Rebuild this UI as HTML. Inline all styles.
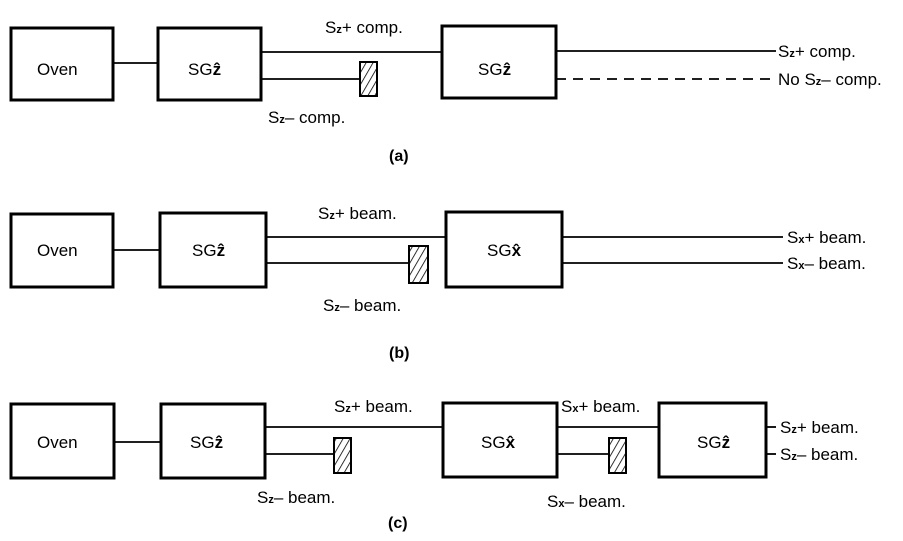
<!DOCTYPE html>
<html><head><meta charset="utf-8"><style>
body{margin:0;background:#fff}
svg{display:block}
text{font-family:"Liberation Sans",sans-serif;font-size:17px;fill:#000}
.s{font-size:11px;font-weight:bold}
.b{font-weight:bold}
</style></head><body>
<svg width="903" height="541" viewBox="0 0 903 541">
<defs>
<pattern id="h" width="6" height="6" patternUnits="userSpaceOnUse" patternTransform="rotate(30)">
<rect width="6" height="6" fill="#fff"/><line x1="0" y1="0" x2="0" y2="6" stroke="#000" stroke-width="1.6"/>
</pattern>
</defs>
<g fill="none" stroke="#000" stroke-width="3">
<rect x="11" y="28" width="102" height="72"/>
<rect x="158" y="28" width="103" height="72"/>
<rect x="442" y="26" width="114" height="72"/>
<rect x="11" y="214" width="102" height="73"/>
<rect x="160" y="213" width="106" height="74"/>
<rect x="446" y="212" width="116" height="75"/>
<rect x="11" y="404" width="103" height="74"/>
<rect x="161" y="404" width="104" height="74"/>
<rect x="443" y="403" width="114" height="74"/>
<rect x="659" y="403" width="107" height="74"/>
</g>
<g stroke="#000" stroke-width="1.8">
<line x1="113" y1="63" x2="158" y2="63"/>
<line x1="261" y1="52" x2="442" y2="52"/>
<line x1="261" y1="79" x2="360" y2="79"/>
<line x1="556" y1="51" x2="776" y2="51"/>
<line x1="556" y1="79" x2="776" y2="79" stroke-dasharray="10,7"/>
<line x1="113" y1="250" x2="160" y2="250"/>
<line x1="266" y1="237" x2="446" y2="237"/>
<line x1="266" y1="263" x2="409" y2="263"/>
<line x1="562" y1="237" x2="783" y2="237"/>
<line x1="562" y1="263" x2="783" y2="263"/>
<line x1="114" y1="442" x2="161" y2="442"/>
<line x1="265" y1="427" x2="443" y2="427"/>
<line x1="265" y1="454" x2="334" y2="454"/>
<line x1="557" y1="427" x2="659" y2="427"/>
<line x1="557" y1="454" x2="609" y2="454"/>
<line x1="766" y1="427" x2="776" y2="427"/>
<line x1="766" y1="454" x2="776" y2="454"/>
</g>
<g stroke="#000" stroke-width="2" fill="url(#h)">
<rect x="360" y="62" width="17" height="34"/>
<rect x="409" y="246" width="19" height="37"/>
<rect x="334" y="438" width="17" height="35"/>
<rect x="609" y="438" width="17" height="35"/>
</g>
<g>
<text x="37" y="75">Oven</text>
<text x="188" y="75">SG<tspan class="b">ẑ</tspan></text>
<text x="478" y="75">SG<tspan class="b">ẑ</tspan></text>
<text x="325" y="33">S<tspan class="s">z</tspan>+ comp.</text>
<text x="268" y="123">S<tspan class="s">z</tspan>– comp.</text>
<text x="778" y="57">S<tspan class="s">z</tspan>+ comp.</text>
<text x="778" y="85">No S<tspan class="s">z</tspan>– comp.</text>
<text x="389" y="161" class="b" style="font-size:16px">(a)</text>

<text x="37" y="256">Oven</text>
<text x="192" y="256">SG<tspan class="b">ẑ</tspan></text>
<text x="487" y="256">SG<tspan class="b">x̂</tspan></text>
<text x="318" y="219">S<tspan class="s">z</tspan>+ beam.</text>
<text x="323" y="311">S<tspan class="s">z</tspan>– beam.</text>
<text x="787" y="243">S<tspan class="s">x</tspan>+ beam.</text>
<text x="787" y="269">S<tspan class="s">x</tspan>– beam.</text>
<text x="389" y="358" class="b" style="font-size:16px">(b)</text>

<text x="37" y="448">Oven</text>
<text x="190" y="448">SG<tspan class="b">ẑ</tspan></text>
<text x="481" y="448">SG<tspan class="b">x̂</tspan></text>
<text x="697" y="448">SG<tspan class="b">ẑ</tspan></text>
<text x="334" y="412">S<tspan class="s">z</tspan>+ beam.</text>
<text x="257" y="503">S<tspan class="s">z</tspan>– beam.</text>
<text x="561" y="412">S<tspan class="s">x</tspan>+ beam.</text>
<text x="547" y="507">S<tspan class="s">x</tspan>– beam.</text>
<text x="780" y="433">S<tspan class="s">z</tspan>+ beam.</text>
<text x="780" y="460">S<tspan class="s">z</tspan>– beam.</text>
<text x="388" y="528" class="b" style="font-size:16px">(c)</text>
</g>
</svg>
</body></html>
